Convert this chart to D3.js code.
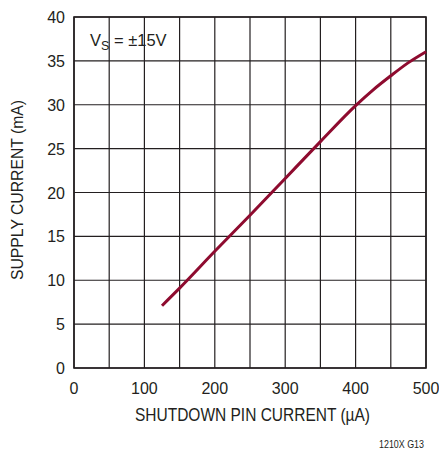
<!DOCTYPE html>
<html><head><meta charset="utf-8">
<script src="https://cdn.jsdelivr.net/npm/d3@7"></script>
<style>
body{margin:0;background:#fff;}
text{font-family:"Liberation Sans","Arial",sans-serif;fill:#231f20;}
</style></head>
<body><svg id="c" width="439" height="453"></svg>
<script>
const pinCurrent = [125, 150, 200, 250, 300, 350, 400, 425, 450, 475, 500];
const supplyCurrent = [7.1, 9.1, 13.3, 17.4, 21.6, 25.8, 29.9, 31.7, 33.3, 34.8, 36.05];
const xTicks = [0, 100, 200, 300, 400, 500];
const yTicks = [0, 5, 10, 15, 20, 25, 30, 35, 40];
const xGrid = d3.range(0, 501, 50);

const svg = d3.select("#c");
const L = 74, R = 426, T = 17, B = 368;
const x = d3.scaleLinear().domain([0, 500]).range([L, R]);
const y = d3.scaleLinear().domain([0, 40]).range([B, T]);

const g = svg.append("g");
g.selectAll(".vg").data(xGrid).enter().append("line")
  .attr("x1", d => x(d)).attr("x2", d => x(d)).attr("y1", T).attr("y2", B)
  .attr("stroke", "#231f20").attr("stroke-width", 1.2);
g.selectAll(".hg").data(yTicks).enter().append("line")
  .attr("y1", d => y(d)).attr("y2", d => y(d)).attr("x1", L).attr("x2", R)
  .attr("stroke", "#231f20").attr("stroke-width", 1.2);
g.append("rect").attr("x", L).attr("y", T).attr("width", R - L).attr("height", B - T)
  .attr("fill", "none").attr("stroke", "#231f20").attr("stroke-width", 1.6);

g.selectAll(".xl").data(xTicks).enter().append("text")
  .attr("x", d => x(d)).attr("y", B + 26).attr("text-anchor", "middle")
  .attr("font-size", 16).text(d => d);
g.selectAll(".yl").data(yTicks).enter().append("text")
  .attr("x", L - 9).attr("y", d => y(d) + 6).attr("text-anchor", "end")
  .attr("font-size", 16).text(d => d);

svg.append("text").attr("x", 252.5).attr("y", 421).attr("text-anchor", "middle")
  .attr("font-size", 17.5).attr("textLength", 235).attr("lengthAdjust", "spacingAndGlyphs")
  .text("SHUTDOWN PIN CURRENT (µA)");
svg.append("text").attr("transform", `translate(23,190) rotate(-90)`)
  .attr("text-anchor", "middle").attr("font-size", 17)
  .attr("textLength", 180).attr("lengthAdjust", "spacingAndGlyphs")
  .text("SUPPLY CURRENT (mA)");
svg.append("text").attr("x", 424).attr("y", 448).attr("text-anchor", "end")
  .attr("font-size", 10).attr("textLength", 45).attr("lengthAdjust", "spacingAndGlyphs")
  .text("1210X G13");

const vs = svg.append("text").attr("x", 90).attr("y", 45.5).attr("font-size", 16.5);
vs.append("tspan").text("V");
vs.append("tspan").attr("font-size", 12.5).attr("dy", 4).text("S");
vs.append("tspan").attr("dy", -4).text(" = ±15V");

const pts = pinCurrent.map((v, i) => [v, supplyCurrent[i]]);
svg.append("path").datum(pts)
  .attr("d", d3.line().x(d => x(d[0])).y(d => y(d[1])).curve(d3.curveMonotoneX))
  .attr("fill", "none").attr("stroke", "#8e0b2f").attr("stroke-width", 3);
</script></body></html>
